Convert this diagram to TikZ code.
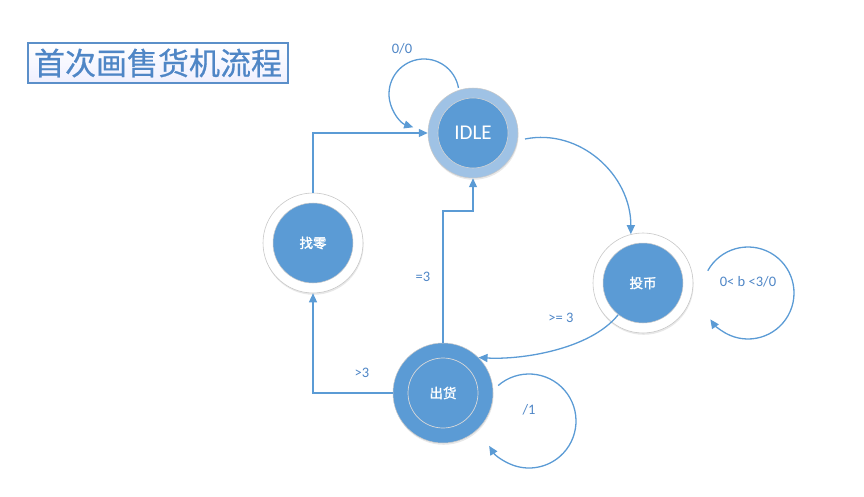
\documentclass[tikz,border=0pt]{standalone}
\usepackage{fontspec}
\setmainfont{Carlito}
\newfontfamily\cjk{Noto Sans CJK SC}[FakeBold=0.6]
\newfontfamily\cjkb{Noto Sans CJK SC}[FakeBold=1.6]
\usetikzlibrary{arrows.meta,shadows,calc}
\definecolor{nodeblue}{HTML}{5B9BD5}
\definecolor{ringblue}{HTML}{9FC2E5}
\definecolor{lineblue}{HTML}{5B9BD5}
\definecolor{txtblue}{HTML}{4F86C6}
\definecolor{edgegray}{HTML}{C8C8C8}
\definecolor{titleborder}{HTML}{5B8FC9}
\begin{document}
\begin{tikzpicture}[x=1pt,y=1pt,
  shadowed/.style={drop shadow={opacity=0.18,shadow xshift=0.6pt,shadow yshift=-1.8pt}},
  outerwhite/.style={circle,minimum size=100pt,inner sep=0pt,fill=white,draw=edgegray,line width=0.6pt,shadowed},
  innerblue/.style={circle,minimum size=80pt,inner sep=0pt,fill=nodeblue,draw=edgegray,line width=0.5pt,text=white,font=\cjkb\fontsize{13.5}{14}\selectfont},
  conn/.style={draw=lineblue,line width=1.3pt},
  arr/.style={conn,-{Triangle[length=9pt,width=8pt]}},
  lbl/.style={text=txtblue,font=\fontsize{14.5}{15}\selectfont,inner sep=0pt}]
\useasboundingbox (0,0) rectangle (864,496);
% title
\node[draw=titleborder,line width=1.2pt,top color=white,bottom color=black!4!blue!6!white,
      minimum width=260pt,minimum height=40pt,inner sep=0pt,text=txtblue,
      font=\cjk\fontsize{31}{32}\selectfont] (title) at (158,433) {首次画售货机流程};
% IDLE
\node[circle,minimum size=90pt,inner sep=0pt,fill=ringblue,draw=edgegray,line width=0.5pt,shadowed] (idle) at (473,363) {};
\node[circle,minimum size=70pt,inner sep=0pt,fill=nodeblue,draw=edgegray!80!white,line width=0.6pt,text=white,
      font=\fontsize{21}{22}\selectfont] (idlei) at (idle.center) {IDLE};
% 找零
\node[outerwhite] (zl) at (313,253) {};
\node[innerblue] (zli) at (zl.center) {找零};
% 投币
\node[outerwhite] (tb) at (643,213) {};
\node[innerblue] (tbi) at (tb.center) {投币};
% 出货
\node[circle,minimum size=100pt,inner sep=0pt,fill=nodeblue,draw=edgegray,line width=0.5pt,shadowed] (ch) at (443,103) {};
\node[circle,minimum size=70pt,inner sep=0pt,draw=edgegray!70!white,line width=0.7pt,text=white,
      font=\cjkb\fontsize{13.5}{14}\selectfont] (chi) at (ch.center) {出货};
% connectors
\draw[arr] (zl.north) |- (idle.west);
\coordinate (m1) at (443,285);
\draw[arr] (ch.north) -- (m1) -| (idle.south);
\draw[arr] (ch.west) -| (zl.south);
\coordinate (s1) at (525,357);
\draw[arr] (s1) .. controls (580,368) and (631,321) .. (tb.104);
\draw[arr] (tbi.-128) .. controls (590,146) and (520,136) .. (ch.45);
% self loops
\coordinate (c1) at ($(424,402)+(10:35)$);
\draw[arr] (c1) arc[start angle=10,end angle=252,radius=35];
\coordinate (c2) at ($(748,203)+(151:46)$);
\draw[arr] (c2) arc[start angle=151,end angle=-145,radius=46];
\coordinate (c3) at ($(529,75)+(131:47)$);
\draw[arr] (c3) arc[start angle=131,end angle=-148,radius=47];
% labels
\node[lbl] (l00) at (402,447) {0/0};
\node[lbl] (leq) at (423,219) {=3};
\node[lbl] (lgt) at (362,123) {>3};
\node[lbl] (lge) at (561,178) {>= 3};
\node[lbl] (lb) at (748,214) {0< b <3/0};
\node[lbl] (l1) at (529,86) {/1};
\end{tikzpicture}
\end{document}
